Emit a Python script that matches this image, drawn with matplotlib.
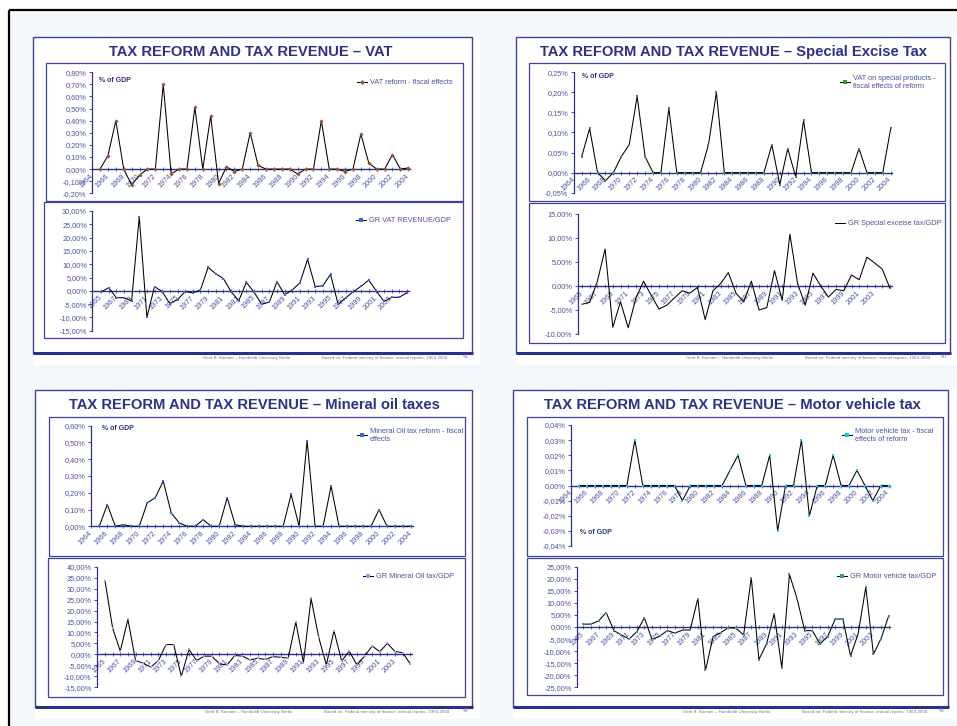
import numpy as np
import matplotlib
matplotlib.use("Agg")
import matplotlib.pyplot as plt
from matplotlib.patches import Rectangle
from matplotlib.ticker import FuncFormatter

plt.rcParams["font.family"] = ["Liberation Sans", "DejaVu Sans"]

# ---------------------------------------------------------------- data
years_reform = list(range(1965, 2005))      # fiscal effects of reforms
years_growth = list(range(1965, 2006))      # growth rates of revenue / GDP
labels_even = list(range(1964, 2005, 2))
labels_odd = list(range(1965, 2004, 2))

vat_reform = [0.00, 0.11, 0.40, 0.00, -0.13, -0.05, 0.00, 0.00, 0.70, -0.04,
              0.00, 0.00, 0.51, 0.00, 0.44, -0.12, 0.02, -0.02, 0.00, 0.30,
              0.03, 0.00, 0.00, 0.00, 0.00, -0.04, 0.00, 0.00, 0.40, 0.00,
              0.00, -0.02, 0.00, 0.29, 0.05, 0.00, 0.00, 0.12, 0.00, 0.01]
vat_growth = [-0.5, 1.2, -2.6, -2.6, -3.8, 27.8, -10.0, 1.6, -0.3, -4.8,
              -3.3, -0.3, -0.8, 0.3, 8.8, 6.4, 4.6, -0.3, -3.8, 3.2,
              -0.5, -5.0, -4.3, 3.4, -1.5, 0.3, 3.0, 11.8, 1.6, 1.9,
              6.2, -5.1, -2.6, -0.3, 1.7, 4.0, -0.1, -4.0, -2.5, -2.4, -0.7]

excise_reform = [0.04, 0.11, 0.00, -0.02, 0.00, 0.04, 0.07, 0.19, 0.04, 0.00,
                 0.00, 0.16, 0.00, 0.00, 0.00, 0.00, 0.07, 0.20, 0.00, 0.00,
                 0.00, 0.00, 0.00, 0.00, 0.07, -0.03, 0.06, -0.01, 0.13, 0.00,
                 0.00, 0.00, 0.00, 0.00, 0.00, 0.06, 0.00, 0.00, 0.00, 0.11]
excise_growth = [-3.8, -3.4, 1.0, 7.7, -8.6, -3.3, -8.7, -2.5, 1.0, -2.0,
                 -4.8, -4.0, -2.5, -1.0, -1.5, -0.3, -7.0, -1.0, 0.5, 2.8,
                 -1.5, -3.3, 1.0, -5.0, -4.5, 3.2, -3.0, 10.8, 0.5, -4.0,
                 2.7, 0.0, -2.3, -0.7, -1.0, 2.3, 1.3, 6.0, 4.8, 3.5, -0.5]

oil_reform = [0.00, 0.13, 0.00, 0.01, 0.00, 0.00, 0.14, 0.17, 0.27, 0.08,
              0.02, 0.00, 0.00, 0.04, 0.00, 0.00, 0.17, 0.01, 0.00, 0.00,
              0.00, 0.00, 0.00, 0.00, 0.19, 0.00, 0.51, 0.00, 0.00, 0.24,
              0.00, 0.00, 0.00, 0.00, 0.00, 0.10, 0.00, 0.00, 0.00, 0.00]
oil_growth = [33.5, 12.0, 1.5, 16.0, -2.8, -4.0, -5.8, -2.8, 4.5, 4.5,
              -10.0, 2.3, -2.8, -0.8, -0.8, -4.3, -4.8, -0.5, -0.8, -2.5,
              -1.8, -2.3, -1.0, -1.3, -1.7, 14.8, -3.8, 25.5, 7.8, -4.8,
              10.8, -3.0, 1.5, -4.8, -0.8, 3.8, 1.3, 5.0, 1.3, 0.8, -4.3]

motor_reform = [0.00, 0.00, 0.00, 0.00, 0.00, 0.00, 0.00, 0.03, 0.00, 0.00,
                0.00, 0.00, 0.00, -0.01, 0.00, 0.00, 0.00, 0.00, 0.00, 0.01,
                0.02, 0.00, 0.00, 0.00, 0.02, -0.03, 0.00, 0.00, 0.03, -0.02,
                0.00, 0.00, 0.02, 0.00, 0.00, 0.01, 0.00, -0.01, 0.00, 0.00]
motor_growth = [1.2, 1.2, 2.5, 6.0, -1.5, -3.3, -5.0, -2.0, 3.8, -5.2,
                -3.8, -1.5, -2.5, -1.3, -1.2, 11.8, -18.0, -4.0, -2.3, -0.3,
                -0.5, -3.3, 20.5, -13.5, -7.0, 5.5, -17.0, 21.8, 11.7, -1.5,
                -1.5, -7.0, -4.0, 3.3, 3.3, -12.0, -2.8, 16.5, -11.3, -4.8, 4.6]

titles = ["TAX REFORM AND TAX REVENUE \u2013 VAT",
          "TAX REFORM AND TAX REVENUE \u2013 Special Excise Tax",
          "TAX REFORM AND TAX REVENUE \u2013 Mineral oil taxes",
          "TAX REFORM AND TAX REVENUE \u2013 Motor vehicle tax"]
page_numbers = ["41", "40", "49", "48"]
footer_author = "Gerit B. Koester \u2013 Humboldt University Berlin"
footer_source = "Based on: Federal ministry of finance; annual reports, 1964-2004"

# ---------------------------------------------------------------- style
W, H = 957, 726
NAVY = "#2B3188"
FRAME = "#3D4398"
TICK = "#4A55A2"
PAGE = "#F5F9FE"
FS = 5.3

fig = plt.figure(figsize=(W / 100, H / 100), dpi=100)
fig.patch.set_facecolor("white")

# canvas in pixel units for frames, titles and footers
bg = fig.add_axes([0, 0, 1, 1])
bg.set_xlim(0, W)
bg.set_ylim(H, 0)
bg.axis("off")

bg.add_patch(Rectangle((9, 10), W, H, facecolor=PAGE, edgecolor="none", zorder=0))
bg.plot([9, 9], [10, H], color="black", lw=1.6, zorder=1, solid_capstyle="butt")
bg.plot([9, W], [10, 10], color="black", lw=1.6, zorder=1, solid_capstyle="butt")

# slide frames: (left, top, right, bottom) in pixels
slides = [(33, 37, 472, 353), (516, 37, 950, 353),
          (35, 390, 472, 707), (513, 390, 948, 707)]
title_xy = [(251, 52), (734, 52), (254, 405), (732, 405)]

for (l, t, r, b), ttl, (tx, ty), num in zip(slides, titles, title_xy, page_numbers):
    bg.add_patch(Rectangle((l, t), r - l + 8, b - t + 12, facecolor="white",
                           edgecolor="none", zorder=0.5))
    bg.add_patch(Rectangle((l, t), r - l, b - t, facecolor="white",
                           edgecolor=FRAME, lw=1.0, zorder=1))
    bg.plot([l, r + 1], [b, b], color=NAVY, lw=2.2, zorder=1.2, solid_capstyle="butt")
    bg.text(tx, ty, ttl, ha="center", va="center", fontsize=10.6,
            fontweight="bold", color=NAVY, zorder=2)
    bg.text(l + 170, b + 5, footer_author, fontsize=3.2, color="#6E73A8",
            va="center", zorder=2)
    bg.text(l + 289, b + 5, footer_source, fontsize=3.2, color="#6E73A8",
            va="center", zorder=2)
    bg.text(r - 9, b + 3.5, num, fontsize=3.6, color="#6E73A8", va="center", zorder=2)

# inner chart boxes (left, top, right, bottom)
boxes = [(46, 63, 463, 201), (44, 202, 463, 338),
         (529, 63, 945, 201), (529, 203, 945, 343),
         (49, 417, 465, 556), (48, 558, 465, 697),
         (527, 417, 943, 556), (527, 558, 943, 695)]
for (l, t, r, b) in boxes:
    bg.add_patch(Rectangle((l, t), r - l, b - t, facecolor="white",
                           edgecolor=FRAME, lw=0.9, zorder=1.5))


def chart(years, values, label, mcolor, marker, yaxis_px, first_px, last_px,
          top_px, bot_px, ymin, ymax, ystep, xlabels, legend_xy, gdp_xy=None):
    step = (last_px - first_px) / (years[-1] - years[0])
    x_lo = years[0] - (first_px - yaxis_px) / step
    x_hi = years[-1] + 0.2
    right_px = last_px + 0.2 * step
    ax = fig.add_axes([yaxis_px / W, 1 - bot_px / H,
                       (right_px - yaxis_px) / W, (bot_px - top_px) / H])
    ax.patch.set_alpha(0)
    ax.set_zorder(3)
    line, = ax.plot(years, values, color="black", lw=0.75, marker=marker, ms=2.1,
                    mfc=mcolor, mec=mcolor, mew=0.0, clip_on=False, zorder=3)
    ax.set_xlim(x_lo, x_hi)
    ax.set_ylim(ymin, ymax)
    for s in ("top", "right"):
        ax.spines[s].set_visible(False)
    ax.spines["left"].set_color(NAVY)
    ax.spines["left"].set_linewidth(0.9)
    ax.spines["bottom"].set_color(NAVY)
    ax.spines["bottom"].set_linewidth(1.0)
    ax.spines["bottom"].set_position(("data", 0))
    ax.spines["bottom"].set_zorder(2)

    n = int(round((ymax - ymin) / ystep))
    ax.set_yticks([ymin + i * ystep for i in range(n + 1)])
    ax.yaxis.set_major_formatter(FuncFormatter(lambda v, p: f"{v:.2f}%".replace(".", ",")))
    ax.set_xticks(xlabels)
    ax.set_xticks(years, minor=True)
    ax.set_xticklabels([str(y) for y in xlabels], rotation=45, ha="right",
                       va="center", rotation_mode="anchor")
    ax.tick_params(axis="y", direction="out", length=2.2, width=0.6, color=NAVY,
                   labelsize=FS, labelcolor=TICK, pad=1.5)
    ax.tick_params(axis="x", which="both", direction="inout", length=2.6, width=0.5,
                   color=NAVY, labelsize=FS, labelcolor=TICK, pad=3)

    lx, ly = legend_xy
    ax.legend([line], [label], loc="upper left", bbox_to_anchor=(lx / W, 1 - ly / H),
              bbox_transform=fig.transFigure, frameon=False, fontsize=FS,
              labelcolor=TICK, handlelength=1.4, handletextpad=0.3,
              borderpad=0, borderaxespad=0, numpoints=1, markerscale=1.2)
    if gdp_xy is not None:
        bg.text(gdp_xy[0], gdp_xy[1], "% of GDP", fontsize=5.0, fontweight="bold",
                color=NAVY, va="center", zorder=4)
    return ax


# VAT
chart(years_reform, vat_reform, "VAT reform - fiscal effects", "#A0522D", "D",
      91.5, 100, 408.3, 72.3, 193.3, -0.20, 0.80, 0.10, labels_even,
      (357, 79), (99, 80))
chart(years_growth, vat_growth, "GR VAT REVENUE/GDP", "#3366FF", "s",
      92.3, 101, 407, 211, 330.7, -15, 30, 5, labels_odd, (356, 217))

# Special excise tax
chart(years_reform, excise_reform, "VAT on special products -\nfiscal effects of reform",
      "#339933", "s", 573.5, 581.7, 890.7, 72.3, 192.7, -0.05, 0.25, 0.05,
      labels_even, (840, 75), (582, 77))
chart(years_growth, excise_growth, "GR Special exceise tax/GDP", "#BBBBBB", "_",
      577.7, 582, 890, 214, 334, -10, 15, 5, labels_odd, (835, 220))

# Mineral oil taxes
chart(years_reform, oil_reform, "Mineral Oil tax reform - fiscal\neffects", "#3366FF",
      "s", 91, 99.3, 411, 425.7, 526.3, 0.0, 0.60, 0.10, labels_even,
      (357, 428), (102, 429))
chart(years_growth, oil_growth, "GR Mineral Oil tax/GDP", "#B08CFF", "s",
      96.7, 105, 410.3, 566.7, 687.3, -15, 40, 5, labels_odd, (363, 573))

# Motor vehicle tax
chart(years_reform, motor_reform, "Motor vehicle tax - fiscal\neffects of reform",
      "#00CCFF", "s", 571, 579.3, 888.7, 425, 546, -0.04, 0.04, 0.01, labels_even,
      (842, 428), (580, 532))
chart(years_growth, motor_growth, "GR Motor vehicle tax/GDP", "#339999", "s",
      576.7, 583.3, 888.7, 566.7, 687.3, -25, 25, 5, labels_odd, (837, 573))

fig.savefig("out.png", dpi=100)
